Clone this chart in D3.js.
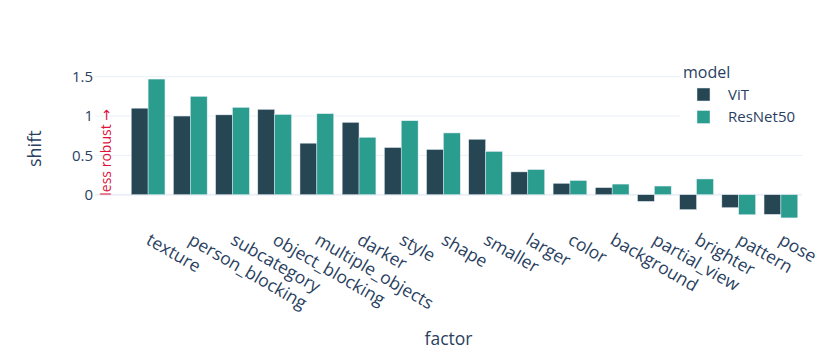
<!DOCTYPE html>
<html>
<head>
<meta charset="utf-8">
<script src="https://cdn.jsdelivr.net/npm/d3@7"></script>
<style>
  html, body { margin: 0; padding: 0; background: #fff; }
  svg { display: block; font-family: "Open Sans", "DejaVu Sans", sans-serif; }
</style>
</head>
<body>
<svg id="chart" width="831" height="356"></svg>
<script>
const categories = ["texture", "person_blocking", "subcategory", "object_blocking", "multiple_objects",
  "darker", "style", "shape", "smaller", "larger", "color", "background", "partial_view",
  "brighter", "pattern", "pose"];
const models = ["ViT", "ResNet50"];
const vitValues = [1.10, 1.00, 1.015, 1.085, 0.655, 0.92, 0.60, 0.575, 0.705, 0.29, 0.145, 0.09, -0.085, -0.19, -0.165, -0.25];
const resnetValues = [1.47, 1.25, 1.11, 1.02, 1.03, 0.73, 0.94, 0.785, 0.55, 0.32, 0.18, 0.135, 0.11, 0.20, -0.255, -0.295];
const yTicks = [0, 0.5, 1, 1.5];
const yTickLabels = ["0", "0.5", "1", "1.5"];
const colors = ["#264653", "#2a9d8f"];

const svg = d3.select("#chart");
const textColor = "#2a3f5f";
const gridColor = "#EBF0F8";
const plotLeft = 95, plotRight = 802;

const x = d3.scaleBand().domain(categories).range([127, plotRight]).paddingInner(0.2).paddingOuter(0.1);
const xm = d3.scaleBand().domain(models).range([0, x.bandwidth()]);
const y = d3.scaleLinear().domain([0, 1.5]).range([194.7, 76.7]);

// gridlines
svg.append("g").selectAll("line").data(yTicks).join("line")
  .attr("x1", plotLeft).attr("x2", plotRight)
  .attr("y1", d => y(d)).attr("y2", d => y(d))
  .attr("stroke", gridColor).attr("stroke-width", d => d === 0 ? 2 : 1);

// y tick labels
svg.append("g").selectAll("text").data(yTicks).join("text")
  .attr("x", 93).attr("y", d => y(d)).attr("dy", "0.36em")
  .attr("text-anchor", "end").attr("fill", textColor).attr("font-size", 15)
  .text((d, i) => yTickLabels[i]);

// bars
const series = [vitValues, resnetValues];
series.forEach((vals, si) => {
  svg.append("g").selectAll("rect").data(vals).join("rect")
    .attr("x", (d, i) => x(categories[i]) + xm(models[si]))
    .attr("width", xm.bandwidth())
    .attr("y", d => y(Math.max(0, d)))
    .attr("height", d => Math.abs(y(d) - y(0)))
    .attr("fill", colors[si])
    .attr("stroke", "#E5ECF6").attr("stroke-width", 0.5);
});

// x tick labels
svg.append("g").selectAll("text").data(categories).join("text")
  .attr("transform", d => `translate(${x(d) + x.bandwidth() / 2},238) rotate(30)`)
  .attr("text-anchor", "start").attr("dy", "0.35em")
  .attr("fill", textColor).attr("font-size", 17.5)
  .text(d => d);

// axis titles
svg.append("text").attr("x", (plotLeft + plotRight) / 2).attr("y", 345)
  .attr("text-anchor", "middle").attr("fill", textColor).attr("font-size", 17.5).text("factor");
svg.append("text").attr("transform", `translate(41,${(y(-0.39) + y(1.56)) / 2}) rotate(-90)`)
  .attr("text-anchor", "middle").attr("fill", textColor).attr("font-size", 18).text("shift");

// annotation
svg.append("text").attr("transform", `translate(105,${y(0) + 1}) rotate(-90)`)
  .attr("text-anchor", "start").attr("dominant-baseline", "central")
  .attr("fill", "#dc143c").attr("font-size", 14).text("less robust \u2192");

// legend
const legend = svg.append("g");
legend.append("rect").attr("x", 680).attr("y", 58).attr("width", 151).attr("height", 74).attr("fill", "#fff");
legend.append("text").attr("x", 683).attr("y", 77.5).attr("fill", textColor).attr("font-size", 16).text("model");
models.forEach((m, i) => {
  legend.append("rect").attr("x", 697).attr("y", 88 + i * 22.5).attr("width", 13).attr("height", 13)
    .attr("fill", colors[i]).attr("stroke", "#E5ECF6").attr("stroke-width", 0.5);
  legend.append("text").attr("x", 728).attr("y", 94.5 + i * 22.5).attr("dy", "0.36em")
    .attr("fill", textColor).attr("font-size", 15).text(m);
});
</script>
</body>
</html>
